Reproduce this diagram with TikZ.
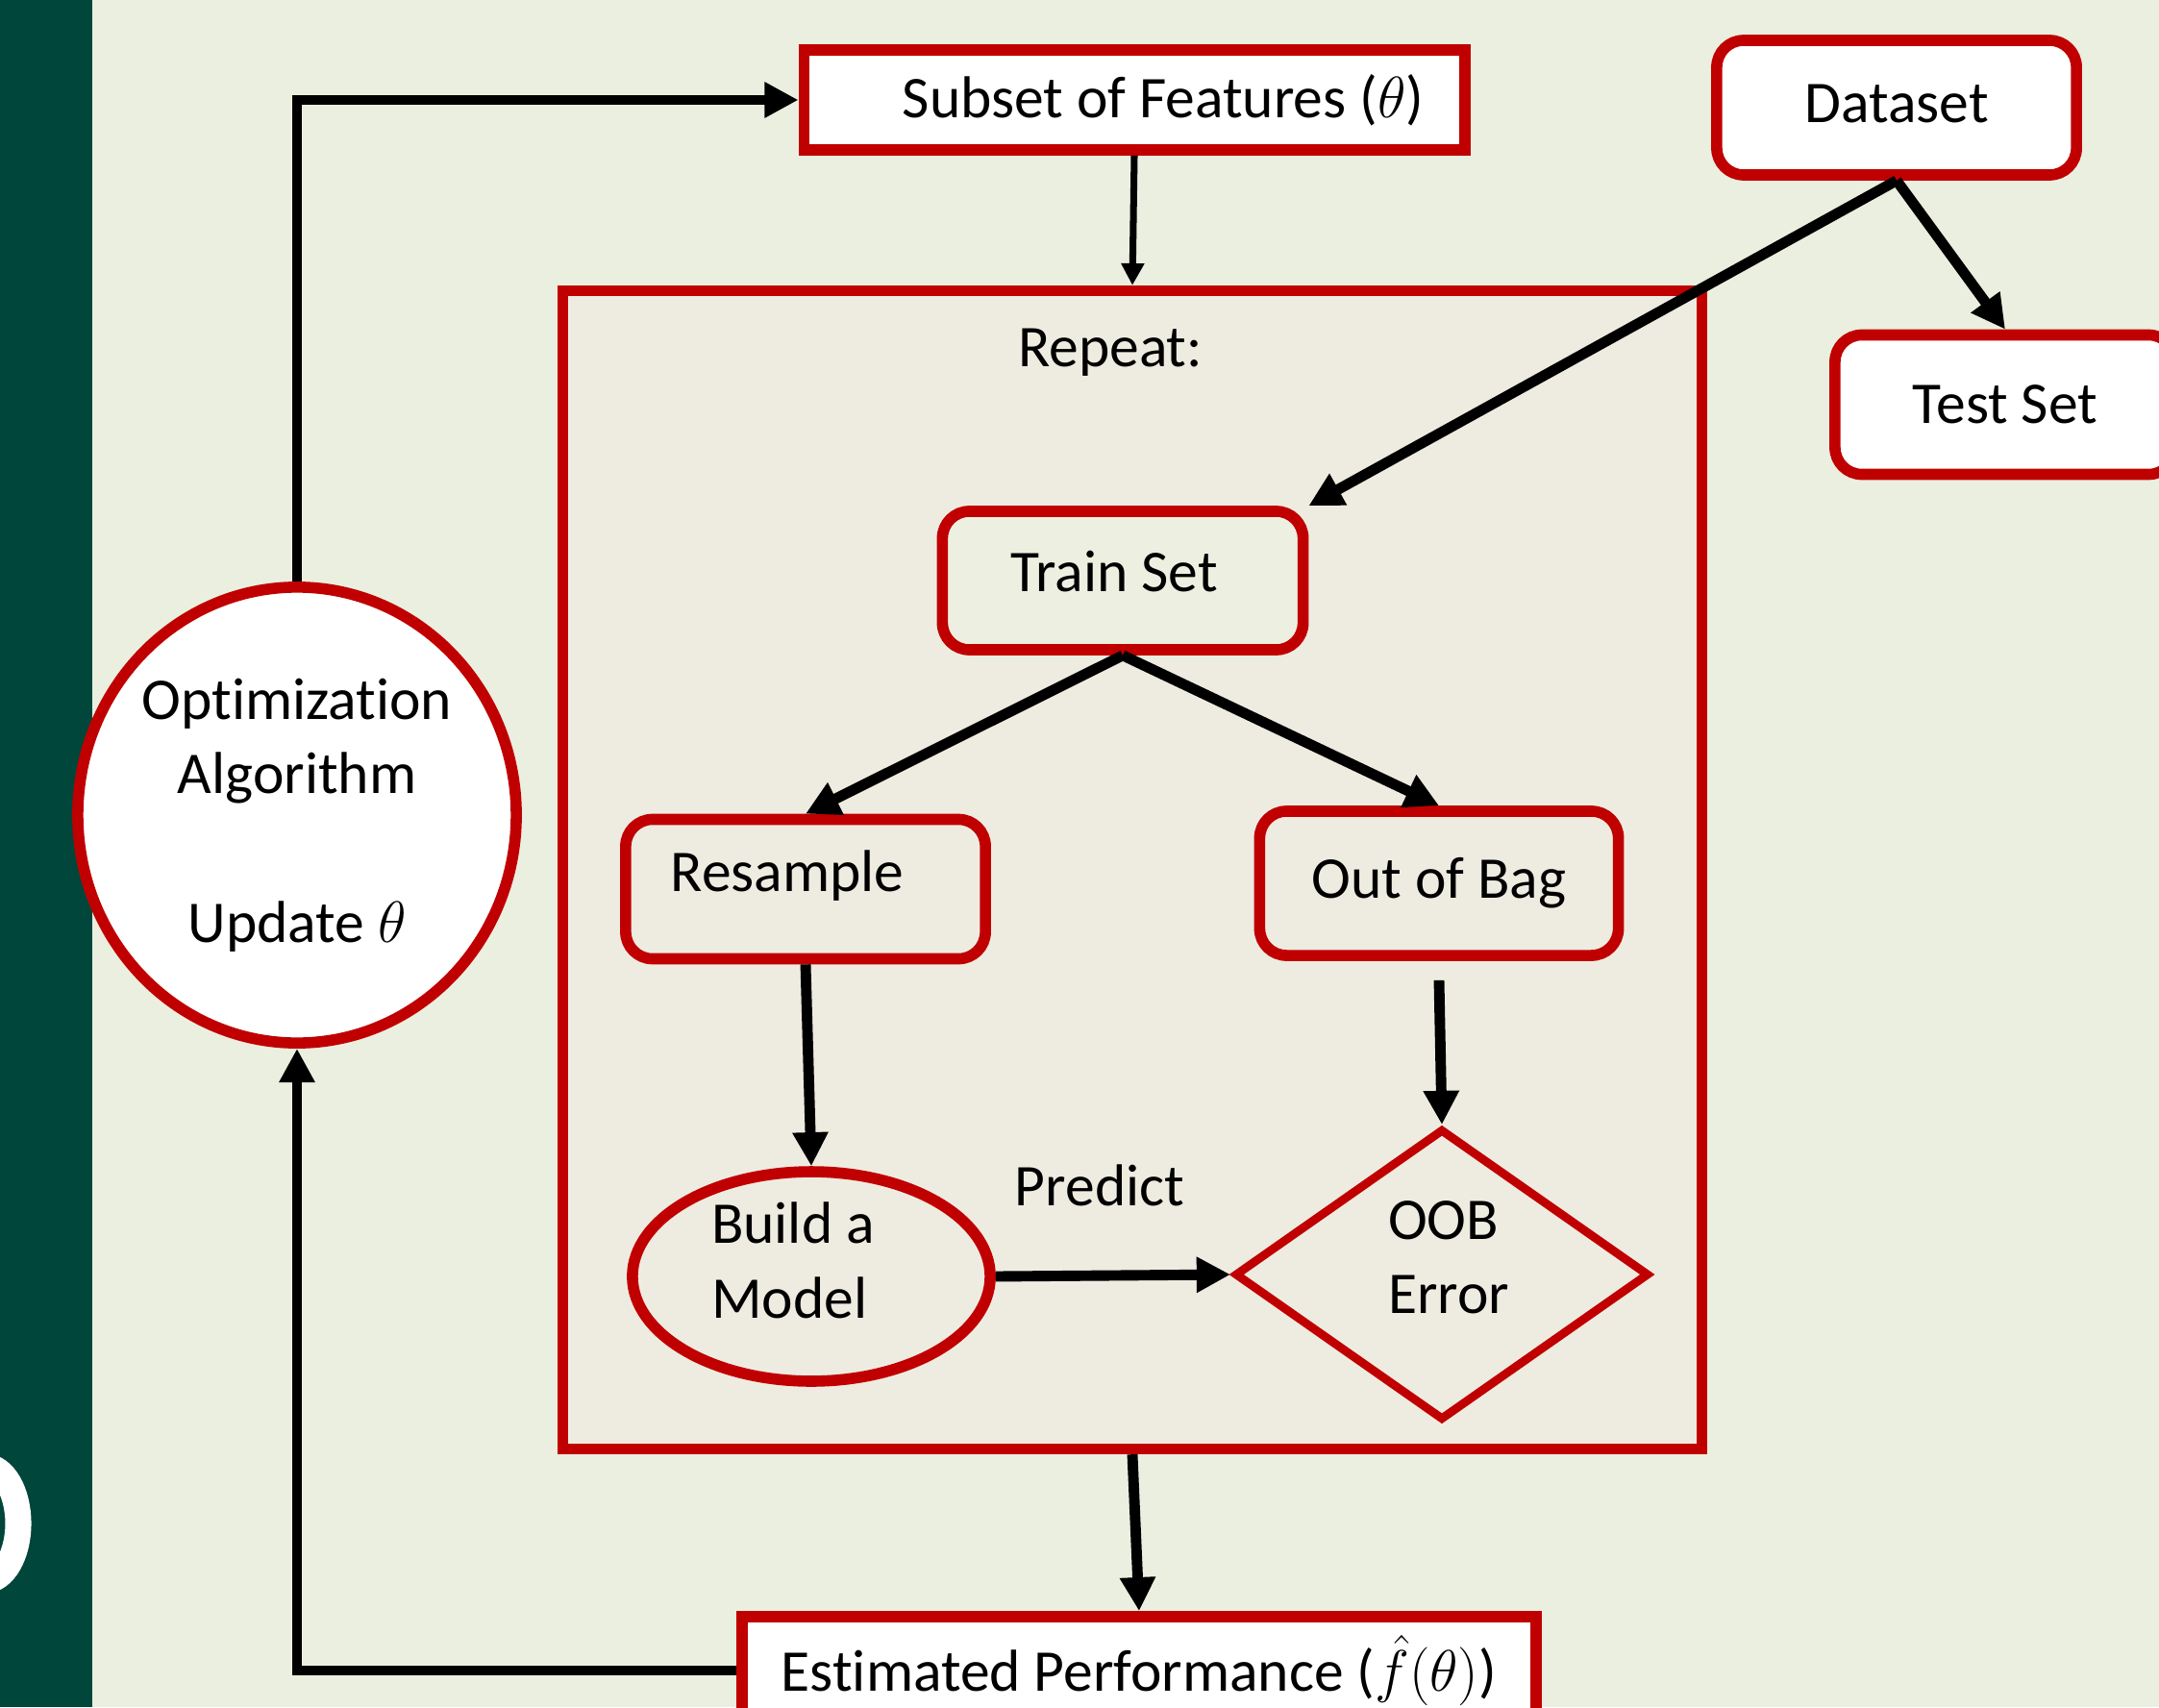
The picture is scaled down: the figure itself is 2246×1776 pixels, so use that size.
\documentclass[tikz,border=0pt]{standalone}
\usepackage{fontspec}
\setmainfont{Carlito}[Ligatures=NoCommon,RawFeature=-calt]
\usetikzlibrary{arrows.meta,shapes.geometric}
\definecolor{bordo}{HTML}{C00000}
\definecolor{bggreen}{HTML}{EBEFDF}
\definecolor{boxbg}{HTML}{EEECE1}
\definecolor{trainbg}{HTML}{EDF0E1}
\definecolor{darkbar}{HTML}{00463A}
% zero-width strut that pushes the text up inside its shape
\newcommand{\lift}[1]{\rule[-#1]{0pt}{#1}}

\begin{document}
\begin{tikzpicture}[x=0.01cm,y=-0.01cm,font=\fontsize{17.5pt}{22pt}\selectfont]
    \tikzstyle{B}=[rectangle,draw=bordo,line width=3.3pt,fill=white,inner sep=0pt]
    \tikzstyle{R}=[B,rounded corners=0.28cm]
    \tikzstyle{E}=[ellipse,draw=bordo,line width=3.3pt,inner sep=0pt]
    \tikzstyle{D}=[diamond,draw=bordo,line width=2.5pt,inner sep=0pt,align=left]
    \tikzstyle{A}=[-{Triangle[length=10pt,width=10pt]},line width=3.1pt]

    % Background and side bar
    \useasboundingbox (0,0) rectangle (2246,1776);
    \clip (0,0) rectangle (2246,1776);
    \fill[bggreen] (0,0) rectangle (2246,1776);
    \fill[darkbar] (0,0) rectangle (96,1776);
    \begin{scope}
      \clip (0,0) rectangle (96,1776);
      \draw[white,line width=7.7pt] (-15,1585) ellipse [x radius=34, y radius=59];
    \end{scope}

    % Outer loop
    \node [B, minimum width=6.87cm, minimum height=1.04cm] (subset) at (1180,104)
        {\hspace*{0.6cm}Subset of Features ($\theta$)};
    \node [R, minimum width=3.74cm, minimum height=1.40cm] (dataset) at (1973,112) {Dataset\lift{0.08cm}};
    \node [R, minimum width=3.54cm, minimum height=1.45cm] (test) at (2086,421) {Test Set};
    \node [E, fill=white, minimum width=4.44cm, minimum height=4.74cm, align=center] (opt) at (309,848)
        {Opt\kern0pt imizat\kern0pt ion\\Algorithm\\[22pt]Update $\theta$};
    \node [B, minimum width=8.26cm, minimum height=1.12cm] (perf) at (1185,1738)
        {Estimated Performance ($\hat{f}(\theta)$)};

    % Repeat box
    \node [B, fill=boxbg, minimum width=11.84cm, minimum height=12.04cm] (repeat) at (1178,905) {};
    \node (rep) at (1155,367) {Repeat:};
    \node [R, fill=trainbg, minimum width=3.75cm, minimum height=1.44cm] (train) at (1168,604)
        {Train Set\hspace*{0.18cm}\lift{0.2cm}};
    \node [R, fill=boxbg, minimum width=3.74cm, minimum height=1.45cm] (resample) at (838,925)
        {Resample\hspace*{0.38cm}\lift{0.38cm}};
    \node [R, fill=boxbg, minimum width=3.73cm, minimum height=1.50cm] (outbag) at (1497,919) {Out of Bag};
    \node [E, minimum width=3.72cm, minimum height=1.90cm, align=left] (build) at (844,1328)
        {Build a\hspace*{0.38cm}\\Model\hspace*{0.38cm}\lift{0.34cm}};
    \node [D, minimum width=4.31cm, minimum height=3.03cm] (oob) at (1500,1326)
        {\hspace*{0.14cm}OOB\\\hspace*{0.14cm}Error\lift{0.36cm}};

    % Arrows
    \draw [A] (opt.north) |- (subset.west);
    \draw [A] (perf.west) -| (opt.south);
    \draw [-{Triangle[length=6.5pt,width=6.5pt]},line width=2pt] (subset.south) -- (repeat.north);
    \draw [A] (dataset.south) -- (train.north east);
    \draw [A] (dataset.south) -- (test.north);
    \draw [A] (train.south) -- (resample.north);
    \draw [A] (train.south) -- (outbag.north);
    \draw [A] (resample.south) -- (build.north);
    \draw [A] ([yshift=-0.2cm]outbag.south) -- (oob.north);
    \draw [A] (build.east) -- node [above=0.55cm, xshift=-0.14cm] (pred) {Predict} (oob.west);
    \draw [A] (repeat.south) -- (perf.north);
\end{tikzpicture}
\end{document}
